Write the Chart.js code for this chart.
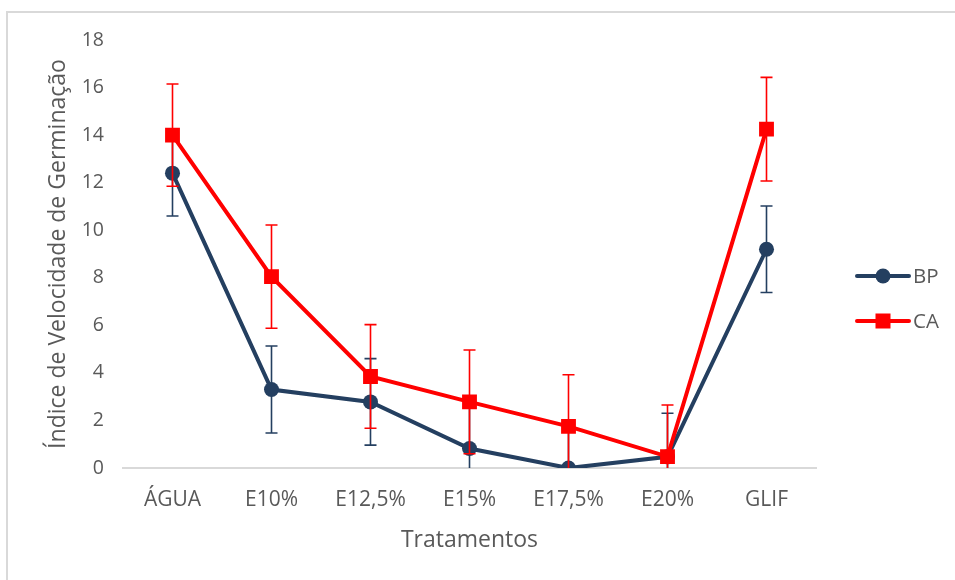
<!DOCTYPE html>
<html>
<head>
<meta charset="utf-8">
<script src="https://cdn.jsdelivr.net/npm/chart.js@4.4.1/dist/chart.umd.min.js"></script>
<style>
  html, body { margin: 0; padding: 0; background: #ffffff; overflow: hidden; }
  #wrap { position: relative; width: 955px; height: 580px; }
  #frame { position: absolute; left: 6px; top: 11px; width: 1200px; height: 800px;
           border: 2px solid #d9d9d9; box-sizing: border-box; }
  canvas { position: absolute; left: 0; top: 0; }
</style>
</head>
<body>
<div id="wrap">
  <div id="frame"></div>
  <canvas id="c" width="955" height="580"></canvas>
</div>
<script>
// ---- data ----
const categories = ["ÁGUA", "E10%", "E12,5%", "E15%", "E17,5%", "E20%", "GLIF"];
const bpValues = [12.4, 3.3, 2.78, 0.82, 0.0, 0.47, 9.2];
const bpErrors = [1.8, 1.83, 1.82, 1.82, 1.8, 1.83, 1.82];
const caValues = [14.0, 8.05, 3.85, 2.78, 1.75, 0.48, 14.25];
const caErrors = [2.15, 2.17, 2.18, 2.18, 2.17, 2.17, 2.18];
const seriesNames = ["BP", "CA"];
const yTicks = [0, 2, 4, 6, 8, 10, 12, 14, 16, 18];

const BP_COLOR = "#243F60";
const CA_COLOR = "#FF0000";
const TEXT_COLOR = "#595959";
const FONT = "'Open Sans', sans-serif";

const errorBars = [bpErrors, caErrors];

const errorBarPlugin = {
  id: "errorBars",
  beforeDatasetDraw(chart, args) {
    const meta = args.meta;
    const ds = chart.data.datasets[meta.index];
    const errs = ds.errors;
    if (!errs) return;
    const y = chart.scales.y;
    const area = chart.chartArea;
    const ctx = chart.ctx;
    ctx.save();
    ctx.beginPath();
    ctx.rect(area.left, area.top - 20, area.right - area.left, area.bottom - area.top + 20);
    ctx.clip();
    ctx.strokeStyle = ds.borderColor;
    ctx.lineWidth = 1.6;
    meta.data.forEach((pt, i) => {
      const v = ds.data[i];
      const e = errs[i];
      const yTop = y.getPixelForValue(v + e);
      const yBot = y.getPixelForValue(v - e);
      const x = pt.x;
      ctx.beginPath();
      ctx.moveTo(x, yTop); ctx.lineTo(x, yBot);
      ctx.moveTo(x - 6, yTop); ctx.lineTo(x + 6, yTop);
      if (v - e >= 0) { ctx.moveTo(x - 6, yBot); ctx.lineTo(x + 6, yBot); }
      ctx.stroke();
    });
    ctx.restore();
  }
};

const legendPlugin = {
  id: "customLegend",
  afterDraw(chart) {
    const ctx = chart.ctx;
    const items = chart.data.datasets;
    const ys = [276, 321];
    ctx.save();
    items.forEach((ds, i) => {
      const yy = ys[i];
      ctx.strokeStyle = ds.borderColor;
      ctx.lineWidth = 4;
      ctx.lineCap = "round";
      ctx.beginPath();
      ctx.moveTo(857, yy); ctx.lineTo(909, yy);
      ctx.stroke();
      ctx.fillStyle = ds.borderColor;
      if (ds.pointStyle === "rect") {
        ctx.fillRect(883 - 7.5, yy - 7.5, 15, 15);
      } else {
        ctx.beginPath();
        ctx.arc(883, yy, 7.5, 0, Math.PI * 2);
        ctx.fill();
      }
      ctx.fillStyle = TEXT_COLOR;
      ctx.font = "20.5px " + FONT;
      ctx.textBaseline = "middle";
      ctx.textAlign = "left";
      ctx.fillText(ds.label, 913, yy + 1);
    });
    ctx.restore();
  }
};

new Chart(document.getElementById("c"), {
  type: "line",
  data: {
    labels: categories,
    datasets: [
      {
        label: seriesNames[0],
        data: bpValues,
        errors: errorBars[0],
        borderColor: BP_COLOR,
        backgroundColor: BP_COLOR,
        borderWidth: 4,
        pointStyle: "circle",
        pointRadius: 7.5,
        pointBorderWidth: 0,
        pointBackgroundColor: BP_COLOR,
        tension: 0,
        order: 1
      },
      {
        label: seriesNames[1],
        data: caValues,
        errors: errorBars[1],
        borderColor: CA_COLOR,
        backgroundColor: CA_COLOR,
        borderWidth: 4,
        pointStyle: "rect",
        pointRadius: 10.5,
        pointBorderWidth: 0,
        pointBackgroundColor: CA_COLOR,
        tension: 0,
        order: 0
      }
    ]
  },
  options: {
    responsive: false,
    animation: false,
    devicePixelRatio: 1,
    layout: { padding: { left: 0, top: 40, right: 139, bottom: 0 } },
    plugins: {
      legend: { display: false },
      tooltip: { enabled: false }
    },
    scales: {
      x: {
        type: "category",
        offset: true,
        grid: { display: false, drawTicks: false },
        border: { display: true, color: "#d9d9d9", width: 2 },
        ticks: { color: TEXT_COLOR, font: { family: FONT, size: 21 }, padding: 19, maxRotation: 0 },
        title: {
          display: true, text: "Tratamentos", color: TEXT_COLOR,
          font: { family: FONT, size: 23 }, padding: { top: 0, bottom: 26 }
        },
        afterFit(scale) { scale.height = 112; }
      },
      y: {
        min: 0, max: 18,
        afterBuildTicks(scale) { scale.ticks = yTicks.map(v => ({ value: v })); },
        grid: { display: false, drawTicks: false },
        border: { display: false },
        ticks: { color: TEXT_COLOR, font: { family: FONT, size: 19.5 }, padding: 19 },
        title: {
          display: true, text: "Índice de Velocidade de Germinação", color: TEXT_COLOR,
          font: { family: FONT, size: 23 }, padding: { top: 45, bottom: 0 }
        },
        afterFit(scale) { scale.width = 123; }
      }
    }
  },
  plugins: [errorBarPlugin, legendPlugin]
});
</script>
</body>
</html>
